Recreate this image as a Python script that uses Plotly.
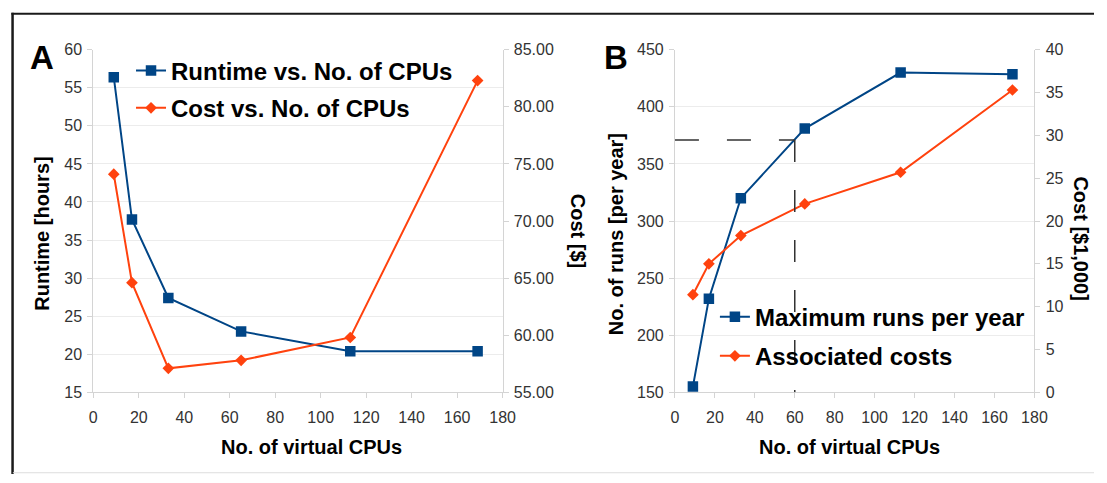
import plotly.graph_objects as go

# Number of virtual CPUs in each cluster configuration
cpus = [9, 17, 33, 65, 113, 169]

# Panel A: runtime and cost of a single run
runtime_hours = [56.4, 37.7, 27.4, 23.0, 20.4, 20.4]
cost_dollars = [74.1, 64.6, 57.1, 57.8, 59.8, 82.3]

# Panel B: yearly throughput and associated cost
runs_per_year = [155, 232, 320, 381, 430, 428.5]
cost_thousands = [11.4, 15.0, 18.3, 22.0, 25.7, 35.3]

# Reference point marked with dashed guides in panel B
guide_cpus = 60
guide_runs = 371

W, H = 1107, 483
BLUE = "#004586"
ORANGE = "#FF420E"
FONT = "Liberation Sans, Arial, sans-serif"


def px_x(v):
    return v / W


def px_y(v):
    return 1 - v / H


fig = go.Figure()

fig.add_trace(go.Scatter(
    x=cpus, y=runtime_hours, name="Runtime vs. No. of CPUs",
    mode="lines+markers", xaxis="x", yaxis="y",
    line=dict(color=BLUE, width=2), marker=dict(symbol="square", size=10.5, color=BLUE),
    legend="legend", legendgroup="a1"))
fig.add_trace(go.Scatter(
    x=cpus, y=cost_dollars, name="Cost vs. No. of CPUs",
    mode="lines+markers", xaxis="x", yaxis="y2",
    line=dict(color=ORANGE, width=2), marker=dict(symbol="diamond", size=9, color=ORANGE),
    legend="legend", legendgroup="a2"))
fig.add_trace(go.Scatter(
    x=cpus, y=runs_per_year, name="Maximum runs per year",
    mode="lines+markers", xaxis="x2", yaxis="y3",
    line=dict(color=BLUE, width=2), marker=dict(symbol="square", size=10.5, color=BLUE),
    legend="legend2", legendgroup="b1"))
fig.add_trace(go.Scatter(
    x=cpus, y=cost_thousands, name="Associated costs",
    mode="lines+markers", xaxis="x2", yaxis="y4",
    line=dict(color=ORANGE, width=2), marker=dict(symbol="diamond", size=9, color=ORANGE),
    legend="legend2", legendgroup="b2"))

tick_font = dict(family=FONT, size=16, color="#333333")
axis_common = dict(
    showline=True, linecolor="#d4d4d4", linewidth=1,
    ticks="outside", ticklen=5, tickcolor="#d4d4d4",
    tickfont=tick_font, zeroline=False, fixedrange=True,
)
x_common = dict(axis_common, ticklabelstandoff=6)
y_common = dict(axis_common, ticklabelstandoff=2)

ydom = [px_y(398.3), px_y(43.3)]
xdom_a = [px_x(90.7), px_x(506.4)]
xdom_b = [px_x(681.4), px_x(1046.5)]

legend_font = dict(family=FONT, size=24, weight="bold", color="#000000")

fig.update_layout(
    width=W, height=H,
    margin=dict(l=0, r=0, t=0, b=0),
    paper_bgcolor="white", plot_bgcolor="white",
    font=dict(family=FONT, color="#000000"),
    xaxis=dict(domain=xdom_a, range=[0, 180], dtick=20, anchor="y",
               showgrid=False, **x_common),
    yaxis=dict(domain=ydom, range=[15, 60], dtick=5, anchor="x",
               showgrid=True, gridcolor="#ececec", **y_common),
    yaxis2=dict(range=[55, 85], dtick=5, tickformat=".2f", overlaying="y",
                side="right", anchor="x", showgrid=False, **y_common),
    xaxis2=dict(domain=xdom_b, range=[0, 180], dtick=20, anchor="y3",
                showgrid=False, **x_common),
    yaxis3=dict(domain=ydom, range=[150, 450], dtick=50, anchor="x2",
                showgrid=True, gridcolor="#ececec", **y_common),
    yaxis4=dict(range=[0, 40], dtick=5, overlaying="y3", side="right",
                anchor="x2", showgrid=False, **y_common),
    legend=dict(x=px_x(129), y=px_y(42), xanchor="left", yanchor="top",
                bgcolor="rgba(0,0,0,0)", itemwidth=30, tracegroupgap=3,
                font=legend_font),
    legend2=dict(x=px_x(722), y=px_y(297), xanchor="left", yanchor="top",
                 bgcolor="rgba(0,0,0,0)", itemwidth=30, tracegroupgap=5,
                 font=legend_font),
    showlegend=True,
)

title_font = dict(family=FONT, size=20, weight="bold", color="#000000")
annotations = [
    # panel letters
    dict(text="A", x=px_x(38.5), y=px_y(51), font=dict(family=FONT, size=33, weight="bold")),
    dict(text="B", x=px_x(622), y=px_y(51), font=dict(family=FONT, size=33, weight="bold")),
    # axis titles
    dict(text="No. of virtual CPUs", x=px_x(312.5), y=px_y(455), font=title_font),
    dict(text="No. of virtual CPUs", x=px_x(859), y=px_y(455), font=title_font),
    dict(text="Runtime [hours]", x=px_x(38.6), y=px_y(234), textangle=-90, font=title_font),
    dict(text="Cost [$]", x=px_x(583), y=px_y(231), textangle=90, font=title_font),
    dict(text="No. of runs [per year]", x=px_x(621), y=px_y(234), textangle=-90, font=title_font),
    dict(text="Cost [$1,000]", x=px_x(1094), y=px_y(239), textangle=90, font=title_font),
]
for a in annotations:
    a.update(xref="paper", yref="paper", showarrow=False, xanchor="center", yanchor="middle")
fig.update_layout(annotations=annotations)

shapes = [
    # dashed guides at the highlighted configuration
    dict(type="line", xref="x2", yref="y3", x0=0, x1=guide_cpus, y0=guide_runs, y1=guide_runs,
         line=dict(color="#333333", width=1.5, dash="24px,28px")),
    dict(type="line", xref="x2", yref="y3", x0=guide_cpus, x1=guide_cpus, y0=guide_runs, y1=150,
         line=dict(color="#333333", width=1.5, dash="22px,28px")),
    # figure frame
    dict(type="line", xref="paper", yref="paper", x0=px_x(8.7), x1=px_x(8.7), y0=px_y(5), y1=0,
         line=dict(color="#1a1a1a", width=2.5)),
    dict(type="line", xref="paper", yref="paper", x0=px_x(7.5), x1=1, y0=px_y(6), y1=px_y(6),
         line=dict(color="#1a1a1a", width=2)),
    dict(type="line", xref="paper", yref="paper", x0=px_x(9), x1=1, y0=px_y(481.7), y1=px_y(481.7),
         line=dict(color="#dddddd", width=1)),
]
fig.update_layout(shapes=shapes)

fig.write_html("out.html")
